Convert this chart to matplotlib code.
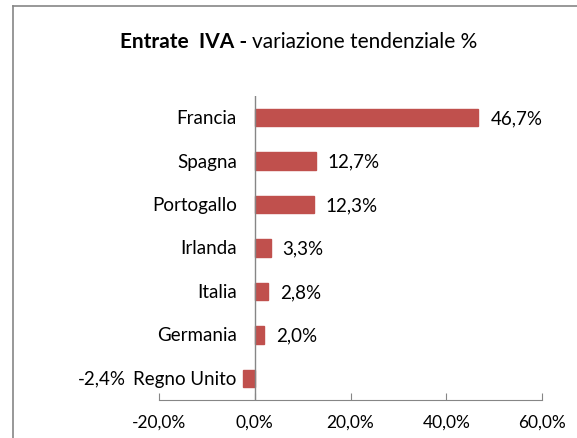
import matplotlib
matplotlib.use("Agg")
import matplotlib.pyplot as plt
from matplotlib.lines import Line2D
from matplotlib.transforms import offset_copy

paesi = ["Francia", "Spagna", "Portogallo", "Irlanda", "Italia", "Germania", "Regno Unito"]
variazione = [46.7, 12.7, 12.3, 3.3, 2.8, 2.0, -2.4]
xticks = [-20, 0, 20, 40, 60]

plt.rcParams['font.family'] = ['Lato', 'DejaVu Sans']
W, H = 577, 439
fig = plt.figure(figsize=(W / 100, H / 100), dpi=100)

# cornice del grafico (solo lati sinistro e superiore visibili)
fx, fy = 12.5 / W, 1 - 6.5 / H
fig.lines.append(Line2D([fx, fx], [0, fy], transform=fig.transFigure, color='#868686', lw=1.2))
fig.lines.append(Line2D([fx, 1], [fy, fy], transform=fig.transFigure, color='#868686', lw=1.2))

ax = fig.add_axes([159 / W, (H - 401) / H, (542 - 159) / W, (401 - 97) / H])
y = list(range(len(paesi)))[::-1]
ax.barh(y, variazione, height=0.4, color='#C0504D', edgecolor='#C0504D')
ax.set_xlim(-20, 60)
ax.set_ylim(-0.5, len(paesi) - 0.5)

for s in ['top', 'right', 'left']:
    ax.spines[s].set_visible(False)
ax.spines['bottom'].set_color('#868686')
ax.axvline(0, color='#868686', linewidth=1)
ax.set_yticks([])
ax.set_xticks(xticks)
ax.set_xticklabels([f"{v:.1f}%".replace('.', ',') for v in xticks], fontsize=12.5)
ax.tick_params(axis='x', direction='in', length=5, color='#868686', pad=10)

lab_tr = offset_copy(ax.transData, fig=fig, x=-18, y=0, units='dots')
for yi, nome in zip(y, paesi):
    ax.text(0, yi, nome, transform=lab_tr, ha='right', va='center', fontsize=13.5)

for yi, v in zip(y, variazione):
    testo = f"{v:.1f}%".replace('.', ',')
    if v >= 0:
        tr = offset_copy(ax.transData, fig=fig, x=12, y=0, units='dots')
        ax.text(v, yi, testo, transform=tr, ha='left', va='center', fontsize=13.5)
    else:
        ax.text(-27.0, yi, testo, ha='right', va='center', fontsize=13.5)

fig.text(252 / W, 1 - 42 / H, "Entrate  IVA - ", ha='right', va='center',
         fontsize=15, fontweight='bold')
fig.text(252 / W, 1 - 42 / H, "variazione tendenziale %", ha='left', va='center',
         fontsize=15)

fig.savefig("out.png", dpi=100)
